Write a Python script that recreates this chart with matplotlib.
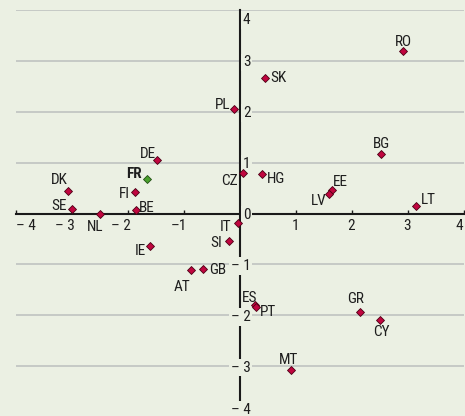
import matplotlib
matplotlib.use('Agg')
import matplotlib.pyplot as plt
from matplotlib.transforms import offset_copy

# ---- data ----
codes = ['RO', 'SK', 'PL', 'BG', 'CZ', 'HG', 'EE', 'LV', 'LT', 'DE', 'FR', 'DK',
         'FI', 'SE', 'BE', 'NL', 'IE', 'IT', 'SI', 'GB', 'AT', 'ES', 'PT', 'GR',
         'CY', 'MT']
xvals = [2.92, 0.46, -0.09, 2.53, 0.07, 0.40, 1.65, 1.60, 3.15, -1.48, -1.65, -3.07,
         -1.87, -2.99, -1.85, -2.50, -1.60, -0.03, -0.19, -0.65, -0.87, 0.27, 0.29, 2.16,
         2.50, 0.92]
yvals = [3.19, 2.67, 2.05, 1.17, 0.80, 0.78, 0.47, 0.38, 0.15, 1.05, 0.68, 0.44,
         0.43, 0.09, 0.07, 0.00, -0.63, -0.19, -0.54, -1.10, -1.12, -1.80, -1.83, -1.94,
         -2.10, -3.07]
highlight = ['FR']

xticks = [-4, -3, -2, -1, 1, 2, 3, 4]
xtick_labels = ['– 4', '– 3', '– 2', '–1', '1', '2', '3', '4']
yticks = [4, 3, 2, 1, 0, -1, -2, -3, -4]
ytick_labels = ['4', '3', '2', '1', '0', '– 1', '– 2', '– 3', '– 4']

# ---- label placement (pixel offsets from marker: centre-x, baseline-y) ----
label_offsets = {
    'RO': (0, 5), 'SK': (13, -4), 'PL': (-12, 0), 'BG': (0, 6), 'CZ': (-14, -12),
    'HG': (14.5, -9), 'EE': (8.5, 3.5), 'LV': (-10, -11), 'LT': (12, 1.5),
    'DE': (-9, 1.7), 'FR': (-13, 0.7), 'DK': (-8, 7.3), 'FI': (-10.5, -6),
    'SE': (-12.5, -1), 'BE': (11, -1.7), 'NL': (-4, -17.4), 'IE': (-10, -9.3),
    'IT': (-12, -7.4), 'SI': (-13, -6.3), 'GB': (14.5, -4.7), 'AT': (-9, -20.3),
    'ES': (-4.7, 3.3), 'PT': (12.5, -9), 'GR': (-4.5, 9.6), 'CY': (2.3, -15.7),
    'MT': (-2.2, 6),
}

plt.rcParams['font.family'] = ['Roboto Condensed', 'DejaVu Sans']
FS = 11
BG = '#ebf0e3'
TXT = '#1e1e1e'
RED, RED_EDGE = '#c0063f', '#4a0014'
GREEN, GREEN_EDGE = '#4aa02c', '#1f4d12'

fig = plt.figure(figsize=(4.65, 4.16), dpi=100, facecolor=BG)
ax = fig.add_axes([15.5 / 465, -1 / 416, 448 / 465, 407 / 416])
ax.set_facecolor(BG)
ax.set_xlim(-4, 4)
ax.set_ylim(-4, 4)

for s in ['top', 'right']:
    ax.spines[s].set_visible(False)
for s in ['left', 'bottom']:
    ax.spines[s].set_position(('data', 0))
    ax.spines[s].set_color('#1a1a1a')
    ax.spines[s].set_linewidth(1.5)
    ax.spines[s].set_zorder(2.5)

ax.set_xticks(xticks)
ax.set_xticklabels([''] * len(xticks))
ax.tick_params(axis='x', direction='in', length=3, width=1, color='#1a1a1a')
ax.set_yticks([])

for yt in yticks:
    if yt != 0:
        ax.axhline(yt, color='#c3c6c3', lw=1.3, zorder=1)

for xt, lab in zip(xticks, xtick_labels):
    if xt == -4:
        ha, dx = 'left', 0
    elif xt == 4:
        ha, dx = 'right', 0
    elif xt < 0:
        ha, dx = 'right', 3
    else:
        ha, dx = 'center', 0
    tr = offset_copy(ax.transData, fig=fig, x=dx, y=-16.5, units='dots')
    ax.text(xt, 0, lab, transform=tr, ha=ha, va='baseline', fontsize=FS,
            color=TXT, zorder=4)

for yt, lab in zip(yticks, ytick_labels):
    if yt == 4:
        dy = -13.7
    elif yt == -4:
        dy = 3
    else:
        dy = -5.5
    tr = offset_copy(ax.transData, fig=fig, x=11, y=dy, units='dots')
    ax.text(0, yt, lab, transform=tr, ha='right', va='baseline', fontsize=FS,
            color=TXT, zorder=4,
            bbox=dict(boxstyle='square,pad=0.12', fc=BG, ec='none'))

for c, x, y in zip(codes, xvals, yvals):
    hl = c in highlight
    ax.plot(x, y, marker='D', ms=4.3, mfc=GREEN if hl else RED,
            mec=GREEN_EDGE if hl else RED_EDGE, mew=0.6,
            ls='none', zorder=5, clip_on=False)
    dx, dy = label_offsets[c]
    tr = offset_copy(ax.transData, fig=fig, x=dx, y=dy, units='dots')
    ax.text(x, y, c, transform=tr, ha='center', va='baseline', fontsize=FS,
            color=TXT, zorder=6, fontweight='bold' if hl else 'normal')

fig.savefig('out.png', dpi=100, facecolor=BG)
